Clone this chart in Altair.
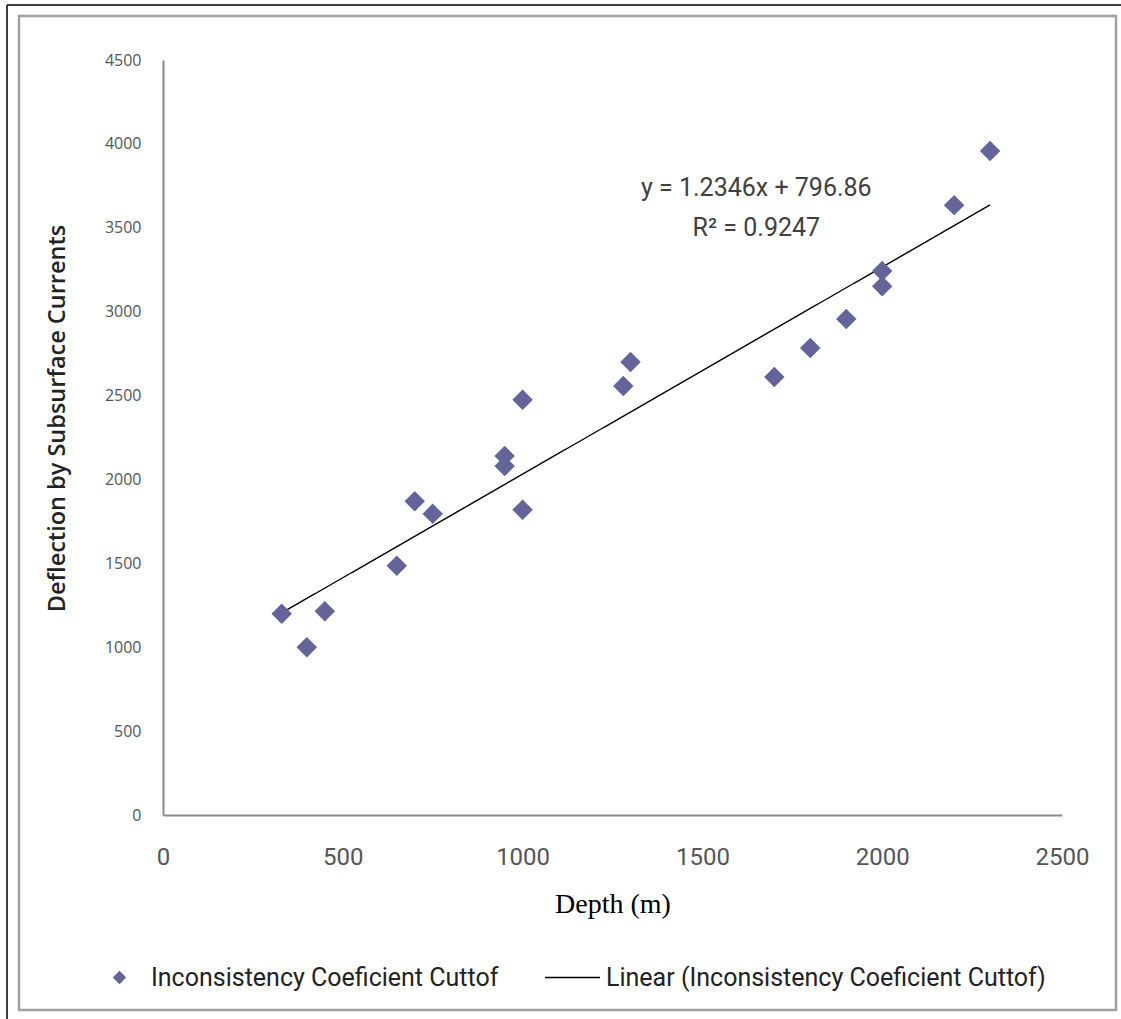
import altair as alt
import pandas as pd

# Data
depth = [330, 400, 450, 650, 700, 750, 950, 950, 1000, 1000, 1280, 1300, 1700, 1800, 1900, 2000, 2000, 2200, 2300]
deflection = [1200, 1000, 1215, 1485, 1870, 1795, 2140, 2080, 1820, 2475, 2557, 2700, 2610, 2783, 2956, 3242, 3152, 3635, 3957]
series_name = "Inconsistency Coeficient Cuttof"
trend_name = "Linear (Inconsistency Coeficient Cuttof)"
slope = 1.2346
intercept = 796.86
eq_lines = ["y = 1.2346x + 796.86", "R² = 0.9247"]
eq_x = [1650, 1650]
eq_y = [3737, 3498]
x_ticks = [0, 500, 1000, 1500, 2000, 2500]
y_ticks = [0, 500, 1000, 1500, 2000, 2500, 3000, 3500, 4000, 4500]

df = pd.DataFrame({"x": depth, "y": deflection, "series": series_name})
ann = pd.DataFrame({"x": eq_x, "y": eq_y, "t": eq_lines})
one = pd.DataFrame({"k": [0]})

SANS = "Roboto"
W, H = 899, 755

xs = alt.Scale(domain=[0, 2500], nice=False)
ys = alt.Scale(domain=[0, 4500], nice=False)

x_axis = alt.Axis(values=x_ticks, format="d", grid=False, ticks=False, domainColor="#8a8a8a", domainWidth=2,
                  labelFont=SANS, labelFontSize=24, labelColor="#555555", labelPadding=30,
                  labelFlush=False,
                  title="Depth (m)", titleFont="Liberation Serif", titleFontSize=28,
                  titleFontWeight="normal", titleColor="#000000", titleY=89, titleBaseline="middle")
y_axis = alt.Axis(values=y_ticks, format="d", grid=False, ticks=False, domainColor="#8a8a8a", domainWidth=2,
                  labelFont="Open Sans", labelFontSize=16, labelColor="#555555", labelPadding=22,
                  labelFlush=False,
                  title="Deflection by Subsurface Currents", titleFont="Open Sans", titleFontSize=23.5,
                  titleFontWeight=600, titleColor="#222222", titleX=-106, titleY=358,
                  titleBaseline="middle", titleAlign="center")

points = alt.Chart(df).mark_point(shape="diamond", filled=True, size=420, opacity=1).encode(
    x=alt.X("x:Q", scale=xs, axis=x_axis),
    y=alt.Y("y:Q", scale=ys, axis=y_axis),
    color=alt.Color("series:N", scale=alt.Scale(range=["#64649B"]),
                    legend=alt.Legend(orient="none", legendX=-56, legendY=905, title=None,
                                      symbolType="diamond", symbolSize=180, labelFont=SANS,
                                      labelFontSize=25, labelColor="#222222", labelOffset=19,
                                      labelLimit=0, direction="horizontal")),
)

trend = alt.Chart(df).transform_calculate(
    fit=f"{slope} * datum.x + {intercept}",
    series2=f"'{trend_name}'",
).mark_line(color="#000000", strokeWidth=1.4).encode(
    x=alt.X("x:Q", scale=xs),
    y=alt.Y("fit:Q", scale=ys),
    strokeDash=alt.StrokeDash("series2:N", scale=alt.Scale(range=[[1, 0]]),
                              legend=alt.Legend(orient="none", legendX=381, legendY=889, title=None,
                                                symbolType="stroke", symbolSize=3025,
                                                symbolStrokeColor="#000000", symbolStrokeWidth=1.5,
                                                labelFont=SANS, labelFontSize=25,
                                                labelColor="#222222", labelOffset=5,
                                                labelLimit=0, direction="horizontal")),
)

eq = alt.Chart(ann).mark_text(font=SANS, fontSize=25, color="#404040", align="center",
                              baseline="middle").encode(
    x=alt.X("x:Q", scale=xs), y=alt.Y("y:Q", scale=ys), text="t:N")

frame = alt.Chart(one).mark_rect(fill=None, stroke="#a0a0a0", strokeWidth=2.5).encode(
    x=alt.value(-144), x2=alt.value(953), y=alt.value(-44), y2=alt.value(950))
top_line = alt.Chart(one).mark_rule(color="#000000", strokeWidth=1.5).encode(
    x=alt.value(-156), x2=alt.value(970), y=alt.value(-55))
left_line = alt.Chart(one).mark_rule(color="#000000", strokeWidth=1.5).encode(
    x=alt.value(-156), y=alt.value(-55), y2=alt.value(970))

chart = alt.layer(frame, top_line, left_line, trend, points, eq).properties(
    width=W, height=H,
    padding={"left": 163, "top": 60, "right": 59, "bottom": 204},
    autosize=alt.AutoSizeParams(type="none"),
).configure_view(stroke=None).resolve_legend(color="independent", strokeDash="independent")

chart.save("out.html", embed_options={"renderer": "svg", "actions": False})
